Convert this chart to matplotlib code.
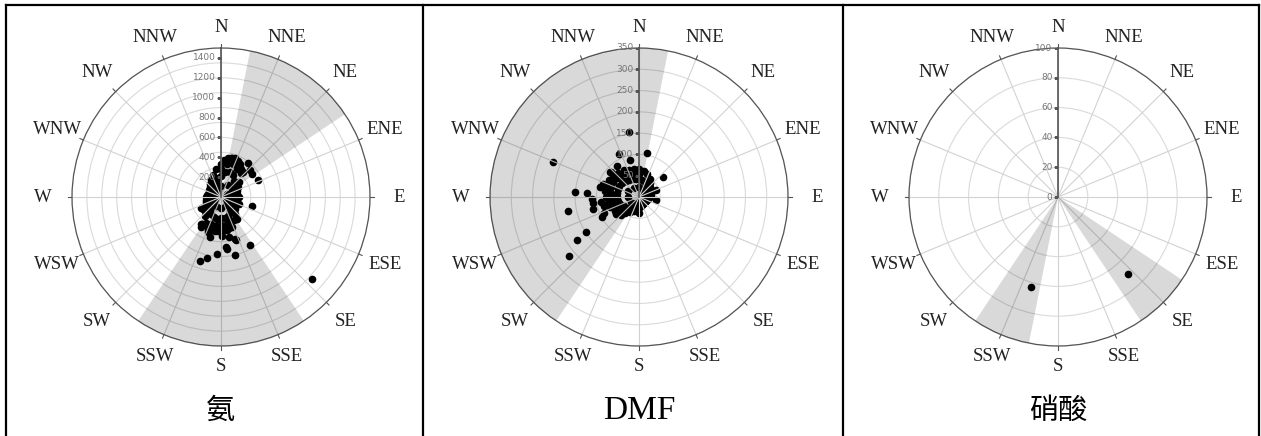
import numpy as np
import matplotlib.pyplot as plt
from matplotlib.lines import Line2D

plt.rcParams['font.family'] = ['Liberation Serif', 'Noto Sans CJK SC']

W, H = 1261, 436

directions = ['N', 'NNE', 'NE', 'ENE', 'E', 'ESE', 'SE', 'SSE',
              'S', 'SSW', 'SW', 'WSW', 'W', 'WNW', 'NW', 'NNW']
dir_angles = np.arange(16) * 22.5

# 氨 : wind direction (deg) / concentration
nh3_dir = [15, 38, 47, 54, 65, 41, 90, 106, 143, 145, 241, 217, 214, 201, 195, 178, 168, 162, 174, 173,
           184, 166, 149, 193, 198, 132, 112, 237, 215, 201, 161,
           0, 5, 10, 15, 20, 25, 30, 35, 40, 50, 60, 70, 80, 90, 100, 110, 120, 130, 140,
           150, 160, 165, 170, 175, 180, 185, 190, 195, 200, 205, 210, 220, 230, 240, 250, 260, 270, 280, 290,
           300, 310, 320, 330, 340, 350,
           0, 10, 20, 30, 40, 50, 60, 70, 80, 90, 100, 110, 120, 130, 140, 150, 160, 170, 180, 190,
           200, 210, 220, 230, 240, 250, 260, 270, 280, 290, 300, 310, 320, 330, 340, 350,
           0, 30, 60, 90, 120, 150, 180, 210, 240, 270, 300, 330,
           0, 10, 20, 30, 160, 170, 180, 190, 200]
nh3_val = [404, 437, 401, 391, 413, 338, 183, 329, 259, 275, 225, 342, 360, 375, 414, 393, 408, 445, 502, 531,
           574, 597, 563, 626, 678, 1239, 197, 217, 335, 357, 458,
           333, 370, 400, 410, 415, 400, 383, 350, 316, 233, 200, 175, 160, 150, 150, 150, 165, 183, 220,
           267, 317, 325, 333, 335, 333, 340, 350, 345, 333, 320, 300, 250, 215, 185, 160, 155, 150, 140, 133,
           140, 150, 170, 200, 240, 290,
           215, 260, 270, 250, 205, 150, 130, 115, 105, 100, 100, 100, 105, 120, 145, 175, 205, 215, 215, 225,
           215, 195, 165, 140, 120, 105, 100, 100, 90, 85, 90, 100, 110, 130, 155, 190,
           115, 135, 70, 55, 60, 95, 115, 105, 65, 55, 50, 70,
           285, 340, 355, 325, 270, 285, 285, 300, 285]
nh3_sectors = [(11.25, 56.25), (146.25, 213.75)]
nh3_ticks = [200, 400, 600, 800, 1000, 1200, 1400]

# DMF
dmf_dir = [351, 335, 10, 347, 292, 274.5, 274, 268, 259, 262, 255, 242, 236, 235, 230, 50, 68, 99, 181,
           0, 10, 20, 30, 40, 50, 60, 70, 80, 90, 100, 110, 120, 130, 140, 150, 160, 170, 180, 190,
           200, 210, 220, 230, 240, 250, 260, 270, 280, 290, 300, 310, 320, 330, 340, 350,
           0, 10, 20, 30, 40, 50, 60, 70, 80, 90, 100, 110, 120, 130, 140, 150, 160, 170, 180, 190,
           200, 210, 220, 230, 240, 250, 260, 270, 280, 290, 300, 310, 320, 330, 340, 350,
           0, 30, 60, 90, 120, 150, 180, 210, 240, 270, 300, 330,
           0, 220, 230, 240, 250, 260, 270, 280, 290, 300, 310, 320, 330, 340, 350,
           312, 300, 287, 234, 224, 284, 290, 262, 255, 245, 325, 310]
dmf_val = [154, 112, 105, 90, 218, 151, 122, 110, 170, 108, 112, 99, 149, 178, 214, 74, 42, 40, 37,
           65, 62, 58, 50, 42, 35, 30, 30, 28, 25, 22, 20, 18, 18, 18, 18, 20, 22, 25, 28,
           35, 42, 50, 60, 65, 72, 75, 78, 80, 82, 82, 80, 75, 72, 68, 66,
           42, 40, 38, 33, 27, 23, 20, 20, 18, 16, 14, 13, 12, 12, 12, 12, 13, 14, 16, 18,
           23, 27, 33, 39, 42, 47, 49, 51, 52, 53, 53, 52, 49, 47, 44, 43,
           23, 18, 10, 9, 7, 7, 9, 15, 23, 27, 29, 25,
           55, 42, 51, 55, 61, 64, 66, 68, 70, 70, 68, 64, 61, 58, 56,
           88, 79, 80, 66, 60, 95, 90, 90, 85, 90, 90, 90]
dmf_sectors = [(213.75, 371.25)]
dmf_ticks = [50, 100, 150, 200, 250, 300, 350]

# 硝酸
hno3_dir = [196.6, 137.6]
hno3_val = [63, 70]
hno3_sectors = [(191.25, 213.75), (123.75, 146.25)]
hno3_ticks = [0, 20, 40, 60, 80, 100]


def draw_rose(ax, dirs, vals, sectors, rmax, step, ticks):
    ax.set_theta_zero_location('N')
    ax.set_theta_direction(-1)
    ax.set_axisbelow(True)
    # shading sits on top of the grid, semi transparent
    for a, b in sectors:
        ax.bar(np.deg2rad((a + b) / 2), rmax, width=np.deg2rad(b - a), bottom=0,
               color=(0, 0, 0, 0.15), edgecolor='none', zorder=3)
    ax.plot(np.deg2rad(dirs), vals, 'o', color='black', ms=5.5, mew=0, zorder=1.5)
    ax.set_ylim(0, rmax)
    ax.set_thetagrids(dir_angles, [''] * 16)
    ax.set_rticks(np.arange(step, rmax + 1e-6, step))
    ax.set_yticklabels([])
    ax.yaxis.grid(True, color='#dadada', lw=0.8)
    ax.xaxis.grid(False)
    # spokes drawn over the points
    for ang in dir_angles:
        t = np.deg2rad(ang)
        ax.plot([t, t], [0, rmax], color='#d2d2d2', lw=0.8, zorder=2.5)
    ax.spines['polar'].set_color('#555555')
    ax.spines['polar'].set_linewidth(0.9)
    # radial axis
    ax.plot([0, 0], [0, rmax], color='#555555', lw=1.2, zorder=4)
    ax.plot([0] * len(ticks), ticks, ls='none', marker=0, ms=3, color='#555555', zorder=4)
    for v in ticks:
        ax.annotate(str(v), xy=(0, v), xytext=(-4, 0), textcoords='offset points',
                    ha='right', va='center', fontsize=6.5, color='#777777',
                    family='DejaVu Sans', zorder=4)
    # outer ticks and compass labels
    for ang, name in zip(dir_angles, directions):
        t = np.deg2rad(ang)
        ax.plot([t, t], [rmax, rmax * 1.025], color='#555555', lw=0.8, clip_on=False)
        f = 1.14 + 0.055 * abs(np.sin(t))
        ax.text(t, rmax * f, name, ha='center', va='center', fontsize=13.5,
                color='#222222', clip_on=False)


fig = plt.figure(figsize=(W / 100, H / 100), dpi=100)

centers = [221, 639, 1058]
names = ['氨', 'DMF', '硝酸']
R = 149
cy = 197
panels = [(nh3_dir, nh3_val, nh3_sectors, 1500, 150, nh3_ticks),
          (dmf_dir, dmf_val, dmf_sectors, 350, 50, dmf_ticks),
          (hno3_dir, hno3_val, hno3_sectors, 100, 20, hno3_ticks)]

for cx, name, p in zip(centers, names, panels):
    ax = fig.add_axes([(cx - R) / W, (H - cy - R) / H, 2 * R / W, 2 * R / H], projection='polar')
    draw_rose(ax, *p)
    if name == 'DMF':
        fig.text(cx / W, 1 - 411 / H, name, ha='center', va='center', fontsize=24)
    else:
        fig.text(cx / W, 1 - 411 / H, name, ha='center', va='center', fontsize=21,
                 family=['Noto Sans CJK SC'])

# table borders
fig.add_artist(Line2D([6 / W, 1259 / W], [1 - 5 / H, 1 - 5 / H], color='black', lw=1.6,
                      transform=fig.transFigure))
for x in [6, 423, 843, 1259]:
    fig.add_artist(Line2D([x / W, x / W], [0, 1 - 5 / H], color='black', lw=1.6,
                          transform=fig.transFigure))

fig.savefig('out.png', dpi=100)
